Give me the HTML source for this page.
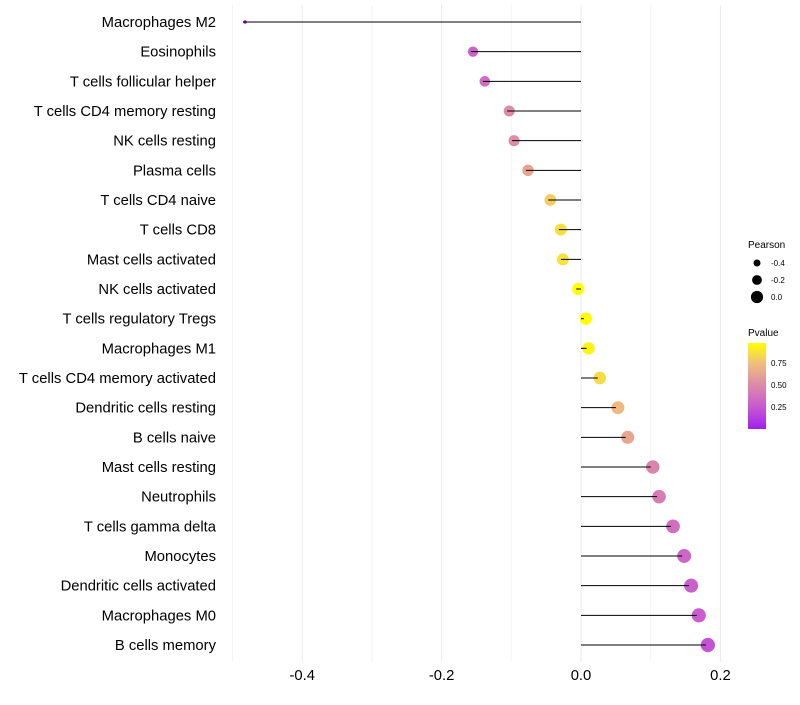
<!DOCTYPE html>
<html><head><meta charset="utf-8"><style>
body{margin:0;background:#fff;font-family:"Liberation Sans",sans-serif;}
</style></head><body>
<svg id="chart" width="800" height="700" xmlns="http://www.w3.org/2000/svg" font-family="Liberation Sans, sans-serif">
<defs><linearGradient id="pg" x1="0" y1="1" x2="0" y2="0">
<stop offset="0" stop-color="#a020f0"/><stop offset="0.26" stop-color="#c85ad0"/><stop offset="0.51" stop-color="#dc8aa8"/><stop offset="0.77" stop-color="#f0c07c"/><stop offset="1" stop-color="#ffff00"/></linearGradient></defs>
<g id="grid"></g>
<g id="dots"></g>
<g id="marks"></g>
<g id="labels"></g>
<g>
<text x="748" y="248" font-size="10">Pearson</text>
<circle cx="757" cy="263" r="3.5" fill="#000"/><text x="771" y="266" font-size="8">-0.4</text>
<circle cx="757" cy="280" r="4.9" fill="#000"/><text x="771" y="283" font-size="8">-0.2</text>
<circle cx="757" cy="297" r="6.1" fill="#000"/><text x="771" y="300" font-size="8">0.0</text>
</g>
<g>
<text x="748" y="336" font-size="10">Pvalue</text>
<rect x="748" y="343" width="18" height="86" fill="url(#pg)"/>
<text x="771" y="366" font-size="8">0.75</text>
<text x="771" y="388" font-size="8">0.50</text>
<text x="771" y="410" font-size="8">0.25</text>
</g>
</svg>
<script>
const categories=["Macrophages M2","Eosinophils","T cells follicular helper","T cells CD4 memory resting","NK cells resting","Plasma cells","T cells CD4 naive","T cells CD8","Mast cells activated","NK cells activated","T cells regulatory  Tregs ","Macrophages M1","T cells CD4 memory activated","Dendritic cells resting","B cells naive","Mast cells resting","Neutrophils","T cells gamma delta","Monocytes","Dendritic cells activated","Macrophages M0","B cells memory"];
const pearson=[-0.482,-0.155,-0.138,-0.103,-0.096,-0.076,-0.044,-0.029,-0.026,-0.004,0.007,0.011,0.027,0.053,0.067,0.103,0.112,0.132,0.148,0.158,0.169,0.182];
const pvalues=[0.01,0.30,0.35,0.50,0.52,0.62,0.80,0.86,0.87,0.98,0.97,0.94,0.85,0.72,0.63,0.48,0.43,0.36,0.31,0.28,0.26,0.22];
const xTicks=[-0.4,-0.2,0.0,0.2];
const xMinor=[-0.5,-0.3,-0.1,0.1];
const NS="http://www.w3.org/2000/svg";
const x=v=>581+v*697;
const y=i=>22+i*(623/21);
function el(t,a,p){const e=document.createElementNS(NS,t);for(const k in a)e.setAttribute(k,a[k]);p.appendChild(e);return e;}
const stops=[[0,[160,32,240]],[0.25,[200,90,208]],[0.5,[220,138,168]],[0.75,[240,192,124]],[0.98,[255,255,0]]];
function col(p){for(let i=0;i<stops.length-1;i++){const[a,ca]=stops[i],[b,cb]=stops[i+1];if(p<=b||i==stops.length-2){let t=Math.max(0,Math.min(1,(p-a)/(b-a)));return `rgb(${ca.map((c,j)=>Math.round(c+(cb[j]-c)*t)).join(',')})`;}}}
const g=document.getElementById('grid'),m=document.getElementById('marks'),D=document.getElementById('dots'),L=document.getElementById('labels');
xMinor.forEach(v=>{const e=el('line',{x1:x(v),x2:x(v),y1:5,y2:662,stroke:'#f4f4f4','stroke-width':1},g);

});
xTicks.forEach(v=>{const e=el('line',{x1:x(v),x2:x(v),y1:5,y2:662,stroke:'#ebebeb','stroke-width':1},g);


const t=el('text',{x:x(v),y:680,'font-size':14.8,'text-anchor':'middle',fill:'#000'},L);t.textContent=v.toFixed(1);

});
categories.forEach((c,i)=>{
const r=Math.sqrt(3.2+(pearson[i]+0.482)*72);
const d=el('circle',{cx:x(pearson[i]),cy:y(i),r:r,fill:col(pvalues[i])},D);


const ln=el('line',{x1:x(0),x2:x(pearson[i])-2,y1:y(i),y2:y(i),stroke:'#000','stroke-width':1},m);


const t=el('text',{x:216,y:y(i)+5,'font-size':14.8,'text-anchor':'end',fill:'#000'},L);t.textContent=c;


});
</script>
</body></html>
